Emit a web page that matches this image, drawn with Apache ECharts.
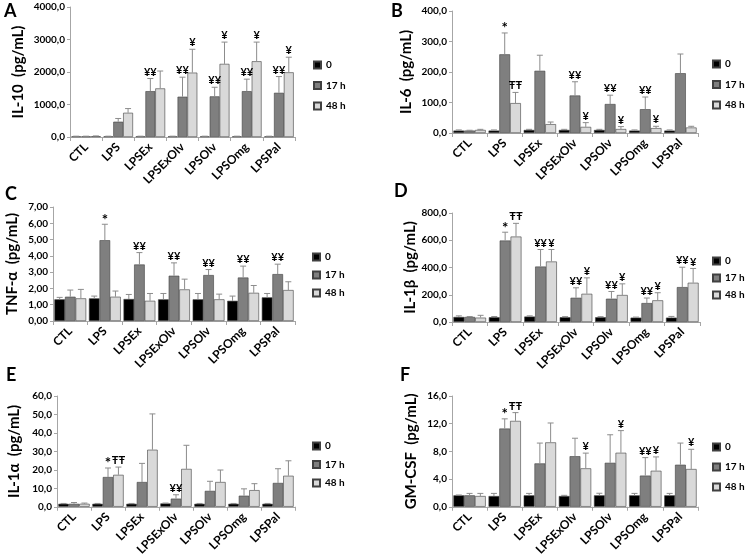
<!DOCTYPE html>
<html><head><meta charset="utf-8">
<script src="https://cdn.jsdelivr.net/npm/echarts@6/dist/echarts.min.js"></script>
<style>html,body{margin:0;padding:0;background:#fff}#c{width:745px;height:558px}</style>
</head><body><div id="c"></div>
<script>
const categories = ['CTL','LPS','LPSEx','LPSExOlv','LPSOlv','LPSOmg','LPSPal'];
const seriesNames = ['0','17 h','48 h'];

// A: IL-10
const il10_0 = [20,20,20,20,20,20,20];
const il10_0_sd = [5,5,5,5,5,5,5];
const il10_17 = [20,470,1410,1240,1250,1410,1360];
const il10_17_sd = [5,100,390,600,280,370,500];
const il10_48 = [25,745,1495,1980,2250,2330,1990];
const il10_48_sd = [8,130,535,720,670,590,465];
const il10_17_ann = ['','','¥¥','¥¥','¥¥','¥¥','¥¥'];
const il10_48_ann = ['','','','¥','¥','¥','¥'];
const il10_ticks = ['0,0','1000,0','2000,0','3000,0','4000,0'];

// B: IL-6
const il6_0 = [8,8,10,10,10,8,8];
const il6_0_sd = [2,2,2,2,2,2,2];
const il6_17 = [8,258,204,123,95,78,196];
const il6_17_sd = [1,70,51,45,29,40,63];
const il6_48 = [10,98,29,20,13,16,18];
const il6_48_sd = [2,35,7,14,8,6,4];
const il6_17_ann = ['','*','','¥¥','¥¥','¥¥',''];
const il6_48_ann = ['','ŦŦ','','¥','¥','¥',''];
const il6_ticks = ['0,0','100,0','200,0','300,0','400,0'];

// C: TNF-α
const tnf_0 = [1.33,1.39,1.35,1.33,1.33,1.24,1.45];
const tnf_0_sd = [0.12,0.14,0.28,0.36,0.36,0.29,0.24];
const tnf_17 = [1.49,4.96,3.47,2.78,2.82,2.67,2.88];
const tnf_17_sd = [0.41,0.98,0.73,0.79,0.34,0.70,0.61];
const tnf_48 = [1.39,1.49,1.24,1.94,1.33,1.73,1.90];
const tnf_48_sd = [0.55,0.35,0.45,0.63,0.32,0.45,0.51];
const tnf_17_ann = ['','*','¥¥','¥¥','¥¥','¥¥','¥¥'];
const tnf_48_ann = ['','','','','','',''];
const tnf_ticks = ['0,00','1,00','2,00','3,00','4,00','5,00','6,00','7,00'];

// D: IL-1β
const il1b_0 = [37,35,40,35,35,32,32];
const il1b_0_sd = [8,5,5,4,4,4,9];
const il1b_17 = [37,598,407,178,171,139,256];
const il1b_17_sd = [3,61,125,73,53,37,146];
const il1b_48 = [32,627,444,207,198,159,288];
const il1b_48_sd = [17,97,88,117,82,56,105];
const il1b_17_ann = ['','*','¥¥','¥¥','¥¥','¥¥','¥¥'];
const il1b_48_ann = ['','ŦŦ','¥','¥','¥','¥','¥'];
const il1b_ticks = ['0,0','200,0','400,0','600,0','800,0'];

// E: IL-1α
const il1a_0 = [1.6,1.6,1.6,1.8,1.6,1.6,1.6];
const il1a_0_sd = [0.2,0.2,0.2,0.2,0.2,0.2,0.2];
const il1a_17 = [1.6,16.1,13.4,4.4,8.6,6.0,12.9];
const il1a_17_sd = [0.7,4.9,10.1,2.1,5.2,3.7,7.7];
const il1a_48 = [1.6,17.3,30.9,20.5,13.4,9.0,16.8];
const il1a_48_sd = [0.4,4.2,19.4,12.8,6.5,3.5,8.1];
const il1a_17_ann = ['','*','','¥¥','','',''];
const il1a_48_ann = ['','ŦŦ','','','','',''];
const il1a_ticks = ['0,0','10,0','20,0','30,0','40,0','50,0','60,0'];

// F: GM-CSF
const gm_0 = [1.65,1.55,1.65,1.55,1.65,1.65,1.65];
const gm_0_sd = [0.05,0.38,0.28,0.1,0.3,0.28,0.28];
const gm_17 = [1.65,11.3,6.26,7.3,6.35,4.5,6.07];
const gm_17_sd = [0.28,1.4,2.94,2.6,4.05,2.6,3.13];
const gm_48 = [1.55,12.4,9.3,5.55,7.8,5.2,5.45];
const gm_48_sd = [0.38,1.2,2.8,2.2,3.2,2.0,2.85];
const gm_17_ann = ['','*','','','','¥¥',''];
const gm_48_ann = ['','ŦŦ','','¥','¥','¥','¥'];
const gm_ticks = ['0,0','4,0','8,0','12,0','16,0'];

const FONT = 'Lato';
const COLORS = ['#000000','#7f7f7f','#d9d9d9'];
const CATGAP = 0.08;
const noAnn = ['','','','','','',''];

const panels = [
  {letter:'A', title:'IL-10  (pg/mL)', means:[il10_0,il10_17,il10_48], sds:[il10_0_sd,il10_17_sd,il10_48_sd], anns:[noAnn,il10_17_ann,il10_48_ann], ticks:il10_ticks, max:4000, interval:1000,
   grid:{left:70,top:7,width:225,height:130}, nameGap:44, legend:{left:313,top:60,gap:10.5}, letterPos:[4,2]},
  {letter:'B', title:'IL-6  (pg/mL)', means:[il6_0,il6_17,il6_48], sds:[il6_0_sd,il6_17_sd,il6_48_sd], anns:[noAnn,il6_17_ann,il6_48_ann], ticks:il6_ticks, max:400, interval:100,
   grid:{left:452,top:11,width:246,height:122}, nameGap:38, legend:{left:712,top:59,gap:10.5}, letterPos:[391,2]},
  {letter:'C', title:'TNF-α  (pg/mL)', means:[tnf_0,tnf_17,tnf_48], sds:[tnf_0_sd,tnf_17_sd,tnf_48_sd], anns:[noAnn,tnf_17_ann,tnf_48_ann], ticks:tnf_ticks, max:7, interval:1,
   grid:{left:53,top:207,width:242,height:114}, nameGap:33, legend:{left:312,top:252,gap:8}, letterPos:[5,185]},
  {letter:'D', title:'IL-1β  (pg/mL)', means:[il1b_0,il1b_17,il1b_48], sds:[il1b_0_sd,il1b_17_sd,il1b_48_sd], anns:[noAnn,il1b_17_ann,il1b_48_ann], ticks:il1b_ticks, max:800, interval:200,
   grid:{left:452,top:213,width:248,height:109}, nameGap:33, legend:{left:712,top:256,gap:7}, letterPos:[394,182]},
  {letter:'E', title:'IL-1α  (pg/mL)', means:[il1a_0,il1a_17,il1a_48], sds:[il1a_0_sd,il1a_17_sd,il1a_48_sd], anns:[noAnn,il1a_17_ann,il1a_48_ann], ticks:il1a_ticks, max:60, interval:10,
   grid:{left:57,top:396,width:238,height:113}, nameGap:35, legend:{left:312,top:441,gap:8.5}, letterPos:[6,366]},
  {letter:'F', title:'GM-CSF  (pg/mL)', means:[gm_0,gm_17,gm_48], sds:[gm_0_sd,gm_17_sd,gm_48_sd], anns:[noAnn,gm_17_ann,gm_48_ann], ticks:gm_ticks, max:16, interval:4,
   grid:{left:452,top:396,width:246,height:113}, nameGap:33, legend:{left:712,top:442,gap:10}, letterPos:[400,366]}
];

const AXC = '#a6a6a6';
const option = {animation:false, textStyle:{fontFamily:FONT}, grid:[], xAxis:[], yAxis:[], legend:[], series:[], graphic:[]};

panels.forEach((p, g) => {
  option.grid.push(Object.assign({containLabel:false}, p.grid));
  option.xAxis.push({type:'category', gridIndex:g, data:categories,
    axisLine:{lineStyle:{color:AXC}}, axisTick:{show:true, length:4, interval:0, lineStyle:{color:AXC}},
    axisLabel:{interval:0, rotate:45, margin:8, fontSize:12, fontWeight:'bold', color:'#000', fontFamily:FONT}});
  option.yAxis.push({type:'value', gridIndex:g, min:0, max:p.max, interval:p.interval,
    name:p.title, nameLocation:'middle', nameRotate:90, nameGap:p.nameGap,
    nameTextStyle:{fontSize:15, fontWeight:'bold', color:'#000', fontFamily:FONT},
    axisLine:{show:true, lineStyle:{color:AXC}}, axisTick:{show:true, length:3, lineStyle:{color:AXC}},
    splitLine:{show:false},
    axisLabel:{fontSize:10, fontWeight:'bold', color:'#000', margin:5, fontFamily:FONT,
      formatter:(v)=>p.ticks[Math.round(v/p.interval)]}});
  option.legend.push({data:seriesNames, orient:'vertical', left:p.legend.left, top:p.legend.top, padding:0,
    itemWidth:7, itemHeight:7, itemGap:p.legend.gap, icon:'rect', selectedMode:false,
    textStyle:{fontSize:10, fontWeight:'bold', color:'#000', fontFamily:FONT}});
  for (let s = 0; s < 3; s++) {
    option.series.push({type:'bar', name:seriesNames[s], xAxisIndex:g, yAxisIndex:g, data:p.means[s],
      barGap:'0%', barCategoryGap:(CATGAP*100)+'%',
      itemStyle:{color:COLORS[s], borderColor:'#404040', borderWidth:0.6}});
  }
  for (let s = 0; s < 3; s++) {
    const ann = p.anns[s];
    option.series.push({type:'custom', name:'err', xAxisIndex:g, yAxisIndex:g, z:5, silent:true,
      data:p.means[s].map((m,i)=>[i, m, m + p.sds[s][i]]),
      renderItem:(params, api) => {
        const i = api.value(0);
        const band = api.size([1,0])[0];
        const bw = band*(1-CATGAP)/3;
        const x = api.coord([i, 0])[0] + (s-1)*bw;
        const yM = api.coord([i, api.value(1)])[1];
        const yT = api.coord([i, api.value(2)])[1];
        const st = {stroke:'#8c8c8c', lineWidth:1};
        const ch = [
          {type:'line', shape:{x1:x, y1:yM, x2:x, y2:yT}, style:st},
          {type:'line', shape:{x1:x-3, y1:yT, x2:x+3, y2:yT}, style:st}
        ];
        const t = ann[params.dataIndex];
        if (t) {
          const star = t === '*';
          ch.push({type:'text', style:{text:t, x:x, y:star ? yT+3 : yT-1, align:'center', verticalAlign:'bottom',
            font:'bold ' + (star ? 15 : 11) + 'px ' + FONT, fill:'#000'}});
        }
        return {type:'group', children:ch};
      }});
  }
  option.graphic.push({type:'text', left:p.letterPos[0], top:p.letterPos[1],
    style:{text:p.letter, font:'bold 18px '+FONT, fill:'#000'}});
});

const chart = echarts.init(document.getElementById('c'), null, {renderer:'canvas'});
chart.setOption(option);
</script></body></html>
